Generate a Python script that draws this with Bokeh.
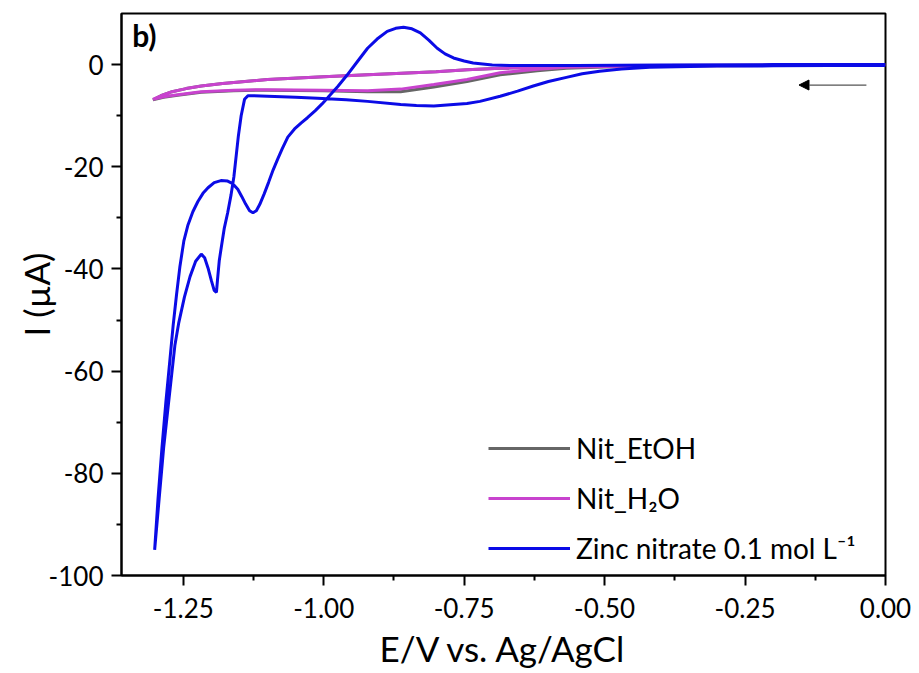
import numpy as np
from bokeh.plotting import figure
from bokeh.models import (Range1d, FixedTicker, Legend, LegendItem,
                          Arrow, NormalHead, Label)
from bokeh.embed import file_html
from bokeh.resources import INLINE

# ---------------- data ----------------
# Zinc nitrate 0.1 mol L-1 : forward (cathodic) scan then reverse scan
zinc_E = [0.00, -0.10, -0.20, -0.30, -0.42, -0.47, -0.509, -0.54, -0.568, -0.60, -0.627, -0.655,
          -0.686, -0.722, -0.745, -0.769, -0.804, -0.835, -0.863, -0.922, -0.96, -1.011, -1.05,
          -1.100, -1.125, -1.135, -1.141, -1.147, -1.152, -1.156, -1.160, -1.165, -1.171, -1.177,
          -1.182, -1.186, -1.189, -1.191, -1.195, -1.200, -1.206, -1.212, -1.218, -1.228, -1.238,
          -1.248, -1.258, -1.265, -1.270, -1.277, -1.285, -1.293, -1.301,
          -1.295, -1.288, -1.281, -1.274, -1.268, -1.262, -1.256, -1.249, -1.242, -1.233, -1.224,
          -1.215, -1.206, -1.195, -1.183, -1.171, -1.162, -1.153, -1.146, -1.139, -1.132, -1.126,
          -1.120, -1.114, -1.106, -1.098, -1.090, -1.082, -1.074, -1.064, -1.052, -1.040, -1.029,
          -1.015, -1.003, -0.993, -0.975, -0.958, -0.940, -0.922, -0.905, -0.887, -0.872, -0.858,
          -0.843, -0.828, -0.813, -0.798, -0.784, -0.769, -0.750, -0.734, -0.700, -0.650, -0.550,
          -0.400, -0.200, 0.00]
zinc_I = [-0.2, -0.2, -0.25, -0.3, -0.5, -0.85, -1.3, -1.8, -2.5, -3.3, -4.2, -5.2,
          -6.2, -7.2, -7.6, -7.8, -8.1, -8.0, -7.8, -7.2, -6.9, -6.6, -6.4,
          -6.2, -6.1, -6.1, -6.8, -10.0, -14.0, -18.0, -22.0, -25.5, -29.0, -32.0,
          -35.5, -38.4, -42.0, -44.6, -44.2, -42.3, -39.8, -37.8, -37.1, -38.5, -41.5,
          -45.5, -50.5, -55.0, -60.0, -67.0, -75.0, -85.0, -95.0,
          -85.0, -75.0, -66.0, -58.0, -51.0, -45.0, -39.5, -34.5, -31.5, -28.8, -26.8,
          -25.2, -24.1, -23.1, -22.7, -22.8, -23.3, -24.4, -25.8, -27.3, -28.6, -29.0,
          -28.6, -27.4, -25.3, -23.0, -20.6, -18.5, -16.5, -14.2, -12.6, -11.4, -10.4,
          -9.0, -7.7, -6.5, -4.3, -2.0, 0.6, 3.2, 5.0, 6.5, 7.1, 7.3,
          7.0, 6.2, 4.8, 3.2, 2.1, 1.3, 0.7, 0.3, -0.1, -0.2, -0.2,
          -0.1, 0.0, 0.0]

# Nit_H2O
h2o_E = [0.00, -0.20, -0.40, -0.50, -0.568, -0.62, -0.686, -0.745, -0.804, -0.863, -0.922,
         -1.00, -1.10, -1.16, -1.218, -1.26, -1.285, -1.304,
         -1.29, -1.27, -1.245, -1.218, -1.18, -1.15, -1.10, -1.00, -0.922, -0.80, -0.745,
         -0.686, -0.60, -0.50, -0.40, -0.20, 0.00]
h2o_I = [-0.1, -0.15, -0.25, -0.35, -0.5, -0.9, -1.6, -2.9, -3.9, -4.8, -5.1,
         -5.0, -4.9, -5.0, -5.3, -5.9, -6.3, -6.8,
         -6.1, -5.3, -4.7, -4.2, -3.7, -3.4, -2.9, -2.4, -2.0, -1.4, -1.0,
         -0.7, -0.45, -0.3, -0.2, -0.1, -0.05]

# Nit_EtOH
etoh_E = [0.00, -0.20, -0.40, -0.50, -0.568, -0.62, -0.686, -0.745, -0.804, -0.863, -0.922,
          -1.00, -1.10, -1.16, -1.218, -1.26, -1.285, -1.304,
          -1.29, -1.27, -1.245, -1.218, -1.18, -1.15, -1.10, -1.00, -0.922, -0.80, -0.745,
          -0.686, -0.60, -0.50, -0.40, -0.20, 0.00]
etoh_I = [-0.1, -0.15, -0.3, -0.45, -0.7, -1.2, -2.0, -3.3, -4.4, -5.3, -5.3,
          -5.1, -5.0, -5.1, -5.4, -6.0, -6.4, -6.9,
          -6.1, -5.3, -4.7, -4.2, -3.7, -3.4, -2.9, -2.4, -2.0, -1.4, -1.0,
          -0.7, -0.45, -0.3, -0.2, -0.1, -0.05]

series_names = ["Nit_EtOH", "Nit_H\u2082O", "Zinc nitrate 0.1 mol L\u207b\u00b9"]

x_ticks = [-1.25, -1.00, -0.75, -0.50, -0.25, 0.00]
x_tick_labels = ["-1.25", "-1.00", "-0.75", "-0.50", "-0.25", "0.00"]
x_minor = [-1.125, -0.875, -0.625, -0.375, -0.125]
y_ticks = [-100, -80, -60, -40, -20, 0]
y_tick_labels = ["-100", "-80", "-60", "-40", "-20", "0"]
y_minor = [-90, -70, -50, -30, -10]

arrow_x = [-0.034, -0.154]   # scan-direction arrow (start, end)
arrow_y = -4.0
panel_label = "b)"

# ---------------- figure ----------------
FONT = "Lato"
p = figure(width=917, height=671, output_backend="svg", toolbar_location=None,
           x_range=Range1d(-1.36, 0.0), y_range=Range1d(-100, 10),
           min_border_left=121, min_border_right=32, min_border_top=13, min_border_bottom=96)

p.background_fill_color = "white"
p.border_fill_color = "white"
p.outline_line_color = "black"
p.outline_line_width = 2
p.xgrid.visible = False
p.ygrid.visible = False

r_etoh = p.line(etoh_E, etoh_I, line_color="#666666", line_width=3)
r_h2o = p.line(h2o_E, h2o_I, line_color="#C843CE", line_width=3)
r_zinc = p.line(zinc_E, zinc_I, line_color="#0B0BE6", line_width=3)

for ax, ticks, minor, labels in ((p.xaxis[0], x_ticks, x_minor, x_tick_labels),
                                 (p.yaxis[0], y_ticks, y_minor, y_tick_labels)):
    ax.ticker = FixedTicker(ticks=ticks, minor_ticks=minor)
    ax.major_label_overrides = {t: l for t, l in zip(ticks, labels)}
    ax.axis_line_width = 2
    ax.axis_line_color = "black"
    ax.major_tick_line_width = 2
    ax.minor_tick_line_width = 2
    ax.major_tick_line_color = "black"
    ax.minor_tick_line_color = "black"
    ax.major_tick_in = 0
    ax.major_tick_out = 10
    ax.minor_tick_in = 0
    ax.minor_tick_out = 5
    ax.major_label_text_font = FONT
    ax.major_label_text_font_size = "26px"
    ax.major_label_text_color = "black"
    ax.axis_label_text_font = FONT
    ax.axis_label_text_font_size = "35px"
    ax.axis_label_text_font_style = "normal"
    ax.axis_label_text_color = "black"

p.xaxis[0].major_label_standoff = 12
p.xaxis[0].axis_label = "E/V vs. Ag/AgCl"
p.xaxis[0].axis_label_standoff = 6
p.yaxis[0].major_label_standoff = 8
p.yaxis[0].axis_label = "I (\u00b5A)"
p.yaxis[0].axis_label_standoff = -11

legend = Legend(items=[LegendItem(label=series_names[0], renderers=[r_etoh]),
                       LegendItem(label=series_names[1], renderers=[r_h2o]),
                       LegendItem(label=series_names[2], renderers=[r_zinc])],
                location=(367, 6), padding=0, margin=0, spacing=8,
                glyph_width=82, glyph_height=42, label_height=42, label_standoff=6,
                label_text_font=FONT, label_text_font_size="28px", label_text_color="black",
                border_line_color=None, background_fill_alpha=0)
p.add_layout(legend, "center")

p.add_layout(Arrow(end=NormalHead(size=10, fill_color="black", line_color="black"),
                   x_start=arrow_x[0], y_start=arrow_y, x_end=arrow_x[1], y_end=arrow_y,
                   line_color="#555555", line_width=1.2))

p.add_layout(Label(x=-1.341, y=9.3, text=panel_label, text_font=FONT, text_font_size="30px",
                   text_font_style="bold", text_baseline="top", text_color="black"))

open("out.html", "w").write(file_html(p, INLINE))
